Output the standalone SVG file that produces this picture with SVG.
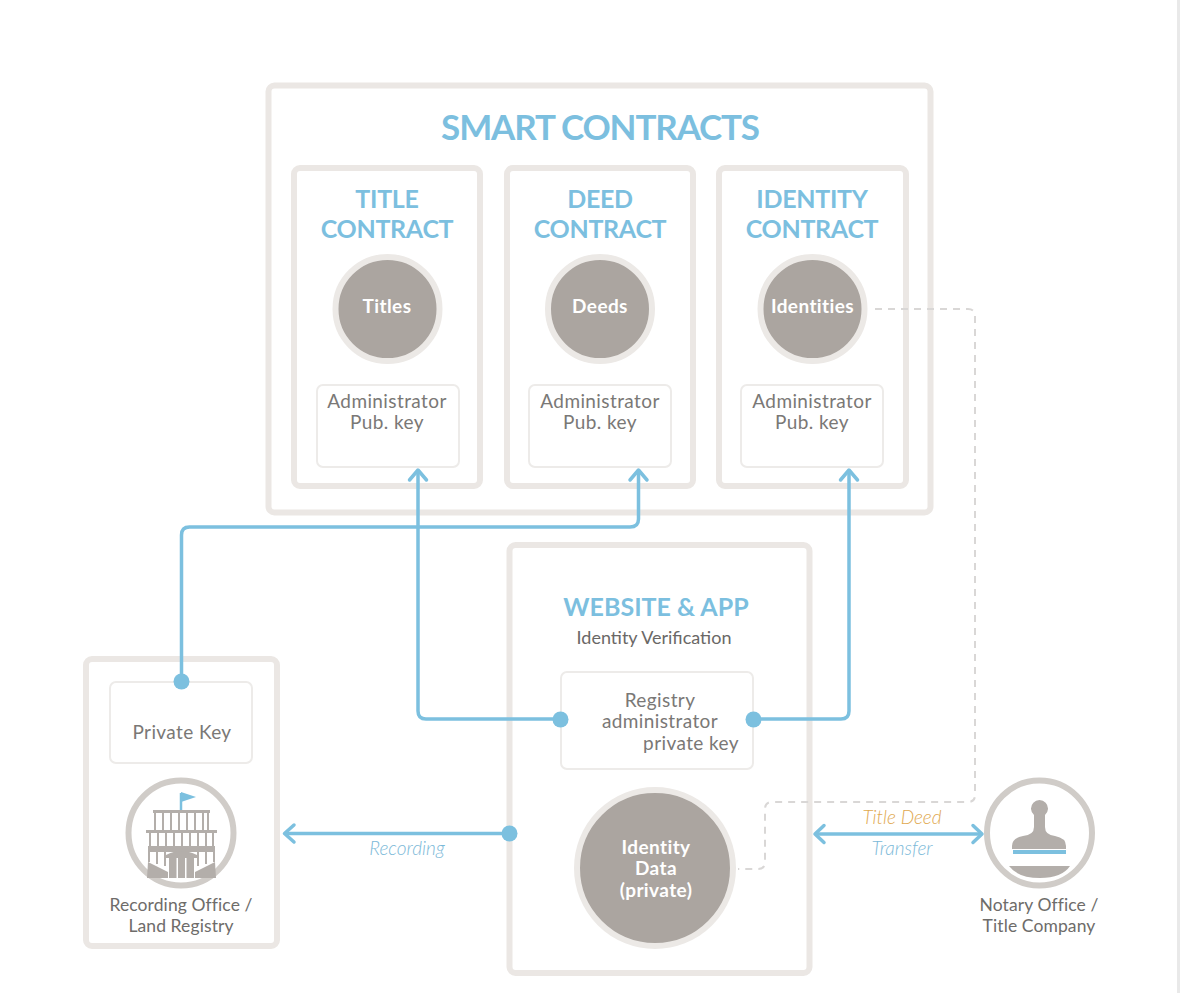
<svg xmlns="http://www.w3.org/2000/svg" width="1180" height="993" viewBox="0 0 1180 993">
<style>
text{font-family:Lato,"Open Sans","Liberation Sans",sans-serif;text-anchor:middle}
.box{fill:#fff;stroke:#ebe7e4;stroke-width:6}
.inner{fill:#fff;stroke:#edebe9;stroke-width:2}
.h1{font-size:35px;font-weight:700;fill:#7cbfdf;letter-spacing:-1.15px}
.h2{font-size:25px;font-weight:700;fill:#7cbfdf;letter-spacing:-0.3px}
.body{font-size:19px;fill:#7a7876;font-weight:400;letter-spacing:.4px}
.cap{font-size:17.500px;fill:#6e6c6a;letter-spacing:.1px}
.disc{fill:#aba5a0;stroke:#ece9e6;stroke-width:6}
.disct{font-size:19px;font-weight:700;fill:#fff;letter-spacing:.4px}
.ring{fill:#fff;stroke:#d0ccc8;stroke-width:6}
.icon{fill:#b3aeaa}
.iconl{fill:none;stroke:#b3aeaa;stroke-width:2}
.wire{fill:none;stroke:#7cc0df;stroke-width:3.5;stroke-linejoin:round}
.dash{fill:none;stroke:#d9d7d6;stroke-width:2;stroke-dasharray:7 6}
.dot{fill:#7cc0df}
.head{fill:none;stroke:#7cc0df;stroke-width:3.5;stroke-linecap:round;stroke-linejoin:round}
.lab{font-size:19px;font-style:italic;font-weight:300;fill:#7cb9d8}
</style>
<rect width="1180" height="993" fill="#fff"/>
<rect x="1177" y="0" width="3" height="993" fill="#e9e9e9"/>

<g id="smart-contracts">
<rect class="box" x="268.500" y="85.500" width="662" height="427" rx="6"/>
<text class="h1" x="600" y="140">SMART CONTRACTS</text>
</g>
<g id="title-contract">
<rect class="box" x="294" y="168" width="186" height="318" rx="6"/>
<text class="h2" x="387" y="208">TITLE</text>
<text class="h2" x="387" y="238">CONTRACT</text>
<circle class="disc" cx="387.500" cy="309" r="52"/>
<text class="disct" x="387" y="313">Titles</text>
<rect class="inner" x="317" y="385" width="142" height="82" rx="6"/>
<text class="body" x="387" y="408">Administrator</text>
<text class="body" x="387" y="429">Pub. key</text>
</g>
<g id="deed-contract">
<rect class="box" x="507" y="168" width="186" height="318" rx="6"/>
<text class="h2" x="600" y="208">DEED</text>
<text class="h2" x="600" y="238">CONTRACT</text>
<circle class="disc" cx="600" cy="309" r="52"/>
<text class="disct" x="600" y="313">Deeds</text>
<rect class="inner" x="529" y="385" width="142" height="82" rx="6"/>
<text class="body" x="600" y="408">Administrator</text>
<text class="body" x="600" y="429">Pub. key</text>
</g>
<g id="identity-contract">
<rect class="box" x="719" y="168" width="187" height="318" rx="6"/>
<text class="h2" x="812" y="208">IDENTITY</text>
<text class="h2" x="812" y="238">CONTRACT</text>
<circle class="disc" cx="812.500" cy="309" r="52"/>
<text class="disct" x="812.500" y="313">Identities</text>
<rect class="inner" x="741" y="385" width="142" height="82" rx="6"/>
<text class="body" x="812" y="408">Administrator</text>
<text class="body" x="812" y="429">Pub. key</text>
</g>
<g id="website-app">
<rect class="box" x="509.500" y="545" width="300" height="428" rx="6"/>
<text class="h2" x="656" y="616" style="letter-spacing:0">WEBSITE &amp; APP</text>
<text class="body" x="654" y="644" style="font-size:18px;letter-spacing:0;fill:#6a6866">Identity Verification</text>
<rect class="inner" x="561" y="672" width="192" height="97" rx="6"/>
<text class="body" x="660" y="707">Registry</text>
<text class="body" x="660" y="728">administrator</text>
<text class="body" x="691" y="750">private key</text>
<circle class="disc" cx="655" cy="868" r="78"/>
<text class="disct" x="656" y="854">Identity</text>
<text class="disct" x="656" y="875">Data</text>
<text class="disct" x="656" y="897">(private)</text>
</g>
<g id="recording-office">
<rect class="box" x="86" y="659" width="191" height="287" rx="6"/>
<rect class="inner" x="110" y="682" width="142" height="81" rx="6"/>
<text class="body" x="182" y="739">Private Key</text>
<circle class="ring" cx="181" cy="833" r="52.500"/>
<path d="M181 793V810" stroke="#7cc0df" stroke-width="2.500" fill="none"/>
<path d="M181 792L196 797L181 802Z" fill="#7cc0df"/>
<path class="icon" d="M153 810H210V813H153Z M146 830H217V833H146Z M148 846H215V852H148Z"/>
<path class="iconl" d="M155 813V830M163 813V830M171 813V830M179 813V830M187 813V830M195 813V830M203 813V830M208 813V830M150 833V846M158 833V846M166 833V846M174 833V846M182 833V846M190 833V846M198 833V846M206 833V846M213 833V846M149 852V862M157 852V864M165 852V866M198 852V866M206 852V864M214 852V862"/>
<path class="icon" d="M148 862L168 872V878H147Z M215 862L195 872V878H216Z"/>
<path class="icon" d="M166 855Q181 847 197 855V858H166Z M169 858H176.500V878H169Z M178 858H185V878H178Z M186.500 858H194V878H186.500Z"/>
<text class="cap" x="181" y="911">Recording Office /</text>
<text class="cap" x="181" y="932">Land Registry</text>
</g>
<g id="notary-office">
<circle class="ring" cx="1039.500" cy="833" r="52.500"/>
<path class="icon" d="M1034 815A8.500 8.500 0 1 1 1045 815V827Q1045 835 1055 836Q1066 838 1066 846V849H1012V846Q1012 838 1023 836Q1034 835 1034 827Z"/>
<path d="M1013 852H1066" stroke="#7cc0df" stroke-width="4"/>
<path class="icon" d="M1009 866H1070Q1062 878 1040 878Q1018 878 1009 866Z"/>
<text class="cap" x="1039" y="911">Notary Office /</text>
<text class="cap" x="1039" y="932">Title Company</text>
</g>

<g id="connectors">
<path class="dash" d="M875 309H968Q975 309 975 316V795Q975 802 968 802H772Q765 802 765 809V862Q765 869 758 869H738"/>
<path class="wire" d="M181.500 681V535Q181.500 527 189.500 527H630Q638.500 527 638.500 519V472"/>
<path class="head" d="M630 480L638.500 470L647 480"/>
<path class="wire" d="M418 472V711Q418 719 426 719H560"/>
<path class="head" d="M409.500 480L418 470L426.500 480"/>
<path class="wire" d="M754 719H841Q849 719 849 711V472"/>
<path class="head" d="M840.500 480L849 470L857.500 480"/>
<path class="wire" d="M286 833.500H510"/>
<path class="head" d="M294 825L284.500 833.500L294 842"/>
<path class="wire" d="M816 834H981"/>
<path class="head" d="M824 825.500L815 834L824 842.500M973 825.500L982 834L973 842.500"/>
<circle class="dot" cx="181.500" cy="681.500" r="8"/>
<circle class="dot" cx="560.500" cy="719.500" r="8"/>
<circle class="dot" cx="753.500" cy="719.500" r="8"/>
<circle class="dot" cx="509.500" cy="833.500" r="8"/>
<text class="lab" x="407" y="855">Recording</text>
<text class="lab" x="902" y="824" style="fill:#dfa950">Title Deed</text>
<text class="lab" x="902" y="855">Transfer</text>
</g>
</svg>
